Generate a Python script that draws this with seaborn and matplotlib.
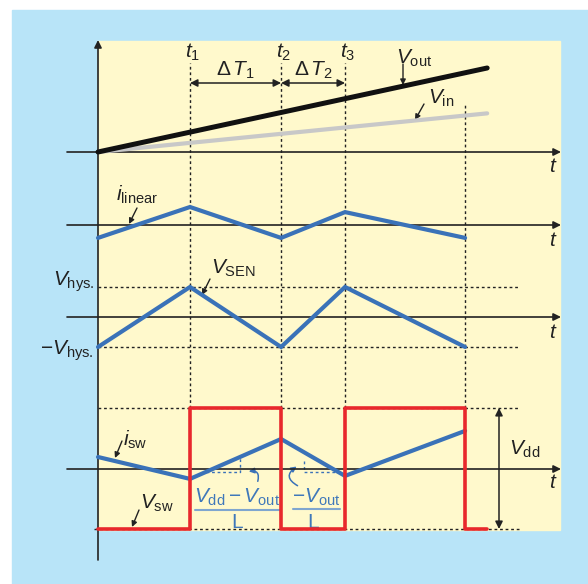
import numpy as np
import matplotlib
matplotlib.use("Agg")
import matplotlib.pyplot as plt
import seaborn as sns
from matplotlib.patches import Rectangle, FancyArrowPatch

sns.set_theme(style="white")
plt.rcParams["font.family"] = ["Liberation Sans", "DejaVu Sans"]
plt.rcParams["mathtext.fontset"] = "custom"
plt.rcParams["mathtext.rm"] = "Liberation Sans"
plt.rcParams["mathtext.it"] = "Liberation Sans:italic"
plt.rcParams["mathtext.sf"] = "Liberation Sans"
plt.rcParams["mathtext.bf"] = "Liberation Sans:bold"

# ---------------- data ----------------
t_marks = [0.0, 1.0, 1.99, 2.685, 3.99]          # start, t1, t2, t3, end
t_mark_labels = [r"$t_1$", r"$t_2$", r"$t_3$"]
ramp_t = [0.0, 4.23]
v_out = [0.0, 1.0]
v_in = [0.0, 0.46]
i_linear = [-0.43, 0.6, -0.43, 0.43, -0.43]
v_sen = [-1.0, 1.0, -1.0, 1.0, -1.0]
v_hys = 1.0
i_sw = [0.4, -0.33, 1.0, -0.23, 1.27]
v_sw_t = [0.0, 1.0, 1.99, 2.685, 3.99, 4.23]
v_sw = [0.0, 1.0, 0.0, 1.0, 0.0, 0.0]
v_dd = 1.0

# ---------------- style ----------------
BG_BLUE = "#b8e4f8"
YELLOW = "#fff9cc"
LINE_BLUE = "#3a72b8"
TEXT_BLUE = "#3f78ba"
RED = "#e8282c"
GRAY = "#c8c8c8"
AX_C = "#222222"
DOT = (0, (2.0, 2.0))

W, H = 588, 584
fig = plt.figure(figsize=(W / 100, H / 100), dpi=100)
fig.patch.set_facecolor("white")

X0, PXT = 98.0, 92.0
XLIM = (-X0 / PXT, (W - X0) / PXT)
limits = []


def new_axes(name, y0=None, s=None):
    ax = fig.add_axes([0, 0, 1, 1], label=name)
    ax.set_axis_off()
    ax.patch.set_alpha(0)
    if y0 is None:
        limits.append((ax, (0, W), (H, 0)))
    else:
        limits.append((ax, XLIM, ((y0 - H) / s, y0 / s)))
    return ax


def tx(px):
    return (px - X0) / PXT


def fy(py):
    return (H - py) / H


# backgrounds
fig.add_artist(Rectangle((12 / W, 0), 1 - 12 / W, (H - 10) / H,
                         transform=fig.transFigure, color=BG_BLUE, zorder=-3))
fig.add_artist(Rectangle((98 / W, fy(530)), (560 - 98) / W, (530 - 41) / H,
                         transform=fig.transFigure, color=YELLOW, zorder=-2))

pix = new_axes("pix")
ax1 = new_axes("volt", 152, 84)
ax2 = new_axes("ilin", 225, 30)
ax3 = new_axes("vsen", 317, 30)
ax4 = new_axes("isw", 469, 30)
ax5 = new_axes("vsw", 529, 121)

# dotted time markers
for i, t in enumerate(t_marks[1:]):
    top = 103 if i == 3 else 63
    ax1.axvline(t, ymin=fy(408), ymax=fy(top), color=AX_C, lw=1.0, ls=DOT, zorder=1)

# vertical axis
pix.annotate("", xy=(98, 40), xytext=(98, 560),
             arrowprops=dict(arrowstyle="-|>", color=AX_C, lw=1.2,
                             mutation_scale=11, shrinkA=0, shrinkB=0))

# horizontal time axes
for ax in (ax1, ax2, ax3, ax4):
    ax.annotate("", xy=(tx(561), 0), xytext=(tx(67), 0),
                arrowprops=dict(arrowstyle="-|>", color=AX_C, lw=1.2,
                                mutation_scale=11, shrinkA=0, shrinkB=0))
for py in (166, 240, 332, 483):
    pix.text(553, py, r"$t$", fontsize=15, ha="center", va="center", color=AX_C)

# panel 1: ramps
sns.lineplot(x=ramp_t, y=v_in, ax=ax1, color=GRAY, lw=3.0, estimator=None,
             sort=False, solid_capstyle="round", zorder=3)
sns.lineplot(x=ramp_t, y=v_out, ax=ax1, color="#111111", lw=3.6, estimator=None,
             sort=False, solid_capstyle="round", zorder=4)

# t labels & delta arrows
for lab, t, py in zip(t_mark_labels, t_marks[1:4], (52, 52, 52)):
    pix.text(X0 + t * PXT + 3, py, lab, fontsize=15, ha="center", va="center", color=AX_C)
for (ta, tb, lab) in ((t_marks[1], t_marks[2], r"$\Delta\,T_1$"),
                      (t_marks[2], t_marks[3], r"$\Delta\,T_2$")):
    pix.annotate("", xy=(X0 + tb * PXT, 83), xytext=(X0 + ta * PXT, 83),
                 arrowprops=dict(arrowstyle="<|-|>", color=AX_C, lw=1.1,
                                 mutation_scale=11, shrinkA=0, shrinkB=0))
    pix.text(X0 + (ta + tb) / 2 * PXT, 70, lab, fontsize=15, ha="center",
             va="center", color=AX_C)

PTR = dict(arrowstyle="-|>", color=AX_C, lw=1.0, mutation_scale=8, shrinkA=0, shrinkB=0)


def pointer(label, tx_, ty, a, b, ha="left"):
    pix.text(tx_, ty, label, fontsize=15, ha=ha, va="center", color=AX_C)
    pix.annotate("", xy=b, xytext=a, arrowprops=PTR)


pointer(r"$V_{\rm out}$", 396, 58, (403, 64), (403, 85))
pointer(r"$V_{\rm in}$", 428, 98, (424, 104), (415, 120))

# panel 2
sns.lineplot(x=t_marks, y=i_linear, ax=ax2, color=LINE_BLUE, lw=3.0,
             estimator=None, sort=False, solid_joinstyle="miter", zorder=3)
pointer(r"$i_{\rm linear}$", 116, 195, (137, 208), (129, 224))

# panel 3
for lvl in (v_hys, -v_hys):
    ax3.plot([0, tx(519)], [lvl, lvl], color=AX_C, lw=1.0, ls=DOT, zorder=1)
sns.lineplot(x=t_marks, y=v_sen, ax=ax3, color=LINE_BLUE, lw=3.0,
             estimator=None, sort=False, solid_joinstyle="miter", zorder=3)
pointer(r"$V_{\rm SEN}$", 211, 268, (210, 279), (202, 295))
pix.text(94, 282, r"$V_{\rm hys.}$", fontsize=15, ha="right", va="center", color=AX_C)
pix.text(94, 351, r"$-V_{\rm hys.}$", fontsize=15, ha="right", va="center", color=AX_C)

# panel 4
ax5.plot([tx(94), tx(519)], [0.0, 0.0], color=AX_C, lw=1.0, ls=DOT, zorder=1)
ax5.plot([0.0, tx(519)], [v_dd, v_dd], color=AX_C, lw=1.0, ls=DOT, zorder=1)
sns.lineplot(x=v_sw_t, y=v_sw, ax=ax5, color=RED, lw=2.6, estimator=None,
             sort=False, drawstyle="steps-post", zorder=3)
sns.lineplot(x=t_marks, y=i_sw, ax=ax4, color=LINE_BLUE, lw=3.0,
             estimator=None, sort=False, solid_joinstyle="miter", zorder=4)
ax5.annotate("", xy=(tx(499), v_dd), xytext=(tx(499), 0),
             arrowprops=dict(arrowstyle="<|-|>", color=AX_C, lw=1.1,
                             mutation_scale=11, shrinkA=0, shrinkB=0))
pix.text(509, 449, r"$V_{\rm dd}$", fontsize=15, ha="left", va="center", color=AX_C)
pointer(r"$i_{\rm sw}$", 123, 440, (122, 441), (115, 458))
pointer(r"$V_{\rm sw}$", 140, 503, (139, 510), (132, 527))

# slope triangles (from i_sw)
y_h = -0.1
t_up = tx(240)
ax4.plot([np.interp(y_h, [i_sw[1], i_sw[2]], [t_marks[1], t_marks[2]]), t_up, t_up],
         [y_h, y_h, np.interp(t_up, t_marks, i_sw)],
         color=LINE_BLUE, lw=1.0, ls=DOT, zorder=2)
t_dn = tx(304)
ax4.plot([t_dn, t_dn, np.interp(-y_h, [-i_sw[2], -i_sw[3]], [t_marks[2], t_marks[3]])],
         [np.interp(t_dn, t_marks, i_sw) - 0.3, y_h, y_h],
         color=LINE_BLUE, lw=1.0, ls=DOT, zorder=2)
pix.add_patch(FancyArrowPatch((257, 484), (246, 472), connectionstyle="arc3,rad=0.9",
                              arrowstyle="-|>", mutation_scale=8, color=LINE_BLUE, lw=1.1))
pix.add_patch(FancyArrowPatch((300, 487), (299, 465), connectionstyle="arc3,rad=-0.9",
                              arrowstyle="-|>", mutation_scale=8, color=LINE_BLUE, lw=1.1))

# fractions
pix.text(237, 497, r"$V_{\rm dd} - V_{\rm out}$", fontsize=15, ha="center",
         va="center", color=TEXT_BLUE)
pix.plot([195, 280], [510, 510], color="#7fa6cf", lw=1.5)
pix.text(237, 523, "L", fontsize=15, ha="center", va="center", color=TEXT_BLUE)
pix.text(316, 497, r"$-V_{\rm out}$", fontsize=15, ha="center", va="center", color=TEXT_BLUE)
pix.plot([293, 340], [509, 509], color="#7fa6cf", lw=1.5)
pix.text(313, 523, "L", fontsize=15, ha="center", va="center", color=TEXT_BLUE)

for ax, xl, yl in limits:
    ax.set_xlim(*xl)
    ax.set_ylim(*yl)
    ax.set_axis_off()

fig.savefig("out.png", dpi=100, facecolor="white")
